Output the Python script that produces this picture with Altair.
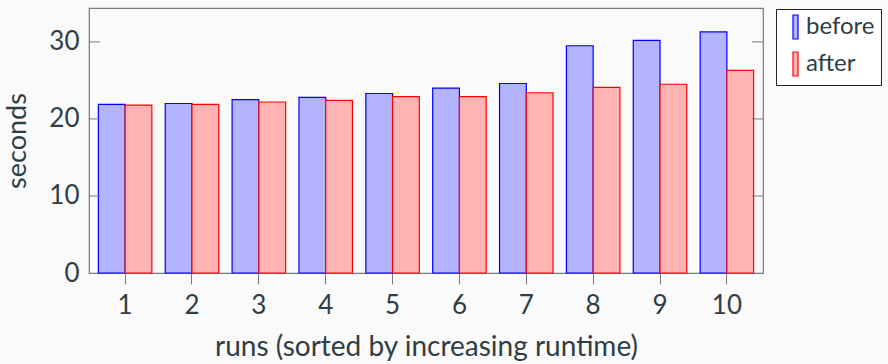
import altair as alt
import pandas as pd

runs = [1, 2, 3, 4, 5, 6, 7, 8, 9, 10]
before = [21.9, 22.0, 22.5, 22.8, 23.3, 24.0, 24.6, 29.5, 30.2, 31.3]
after = [21.8, 21.9, 22.2, 22.4, 22.9, 22.9, 23.4, 24.1, 24.5, 26.3]
series = ["before", "after"]
fills = ["#b3b3ff", "#ffb3b3"]
strokes = ["#0000ff", "#ff0000"]
y_ticks = [0, 10, 20, 30]

FONT = "Lato"
TEXT = "#2f3e46"
FRAME = "#737b7e"

df = pd.DataFrame({
    "run": runs * 2,
    "series": ["before"] * len(runs) + ["after"] * len(runs),
    "seconds": before + after,
})
ticks_df = pd.DataFrame({"seconds": y_ticks[1:]})

yscale = alt.Scale(domain=[0, 34.4], nice=False, zero=True)
yaxis = alt.Axis(values=y_ticks, title="seconds", grid=False, ticks=False,
                 tickSize=0, domain=False,
                 labelFont=FONT, labelFontSize=26, labelColor=TEXT, labelPadding=10,
                 titleFont=FONT, titleFontSize=27, titleColor=TEXT,
                 titleFontWeight="normal", titlePadding=17)

legend_kw = dict(
    title=None, orient="none", legendX=687, legendY=1,
    fillColor="white", strokeColor="#222222", padding=6,
    labelFont=FONT, labelFontSize=24, labelColor=TEXT,
    symbolType="M-0.5,-6 L2,-6 L2,6 L-0.5,6 Z", symbolSize=16,
    symbolStrokeWidth=1.2, symbolOpacity=1, labelOffset=0, rowPadding=7,
)

bars = alt.Chart(df).mark_bar(strokeWidth=1.2).encode(
    x=alt.X("run:O", sort=runs,
            scale=alt.Scale(paddingInner=0.2, paddingOuter=0.14),
            axis=alt.Axis(title="runs (sorted by increasing runtime)", labelAngle=0,
                          tickSize=11, tickColor=FRAME, domain=False,
                          labelFont=FONT, labelFontSize=26, labelColor=TEXT, labelPadding=8,
                          titleFont=FONT, titleFontSize=28, titleColor=TEXT,
                          titleFontWeight="normal", titlePadding=15)),
    xOffset=alt.XOffset("series:N", sort=series,
                        scale=alt.Scale(domain=series, paddingInner=0, paddingOuter=0)),
    y=alt.Y("seconds:Q", scale=yscale, axis=yaxis),
    fill=alt.Fill("series:N", sort=series,
                  scale=alt.Scale(domain=series, range=fills),
                  legend=alt.Legend(**legend_kw)),
    stroke=alt.Stroke("series:N", sort=series,
                      scale=alt.Scale(domain=series, range=strokes),
                      legend=alt.Legend(**legend_kw)),
)

left_ticks = alt.Chart(ticks_df).mark_rule(color=FRAME, strokeWidth=1).encode(
    y=alt.Y("seconds:Q", scale=yscale, axis=yaxis),
    x=alt.value(0), x2=alt.value(11),
)
right_ticks = alt.Chart(ticks_df).mark_rule(color=FRAME, strokeWidth=1).encode(
    y=alt.Y("seconds:Q", scale=yscale, axis=yaxis),
    x=alt.value(663), x2=alt.value(674),
)

chart = alt.layer(bars, left_ticks, right_ticks).properties(
    width=674, height=265,
    autosize=alt.AutoSizeParams(type="none"),
    padding={"left": 89, "top": 8, "right": 125, "bottom": 91},
    background="#fafafa",
).configure_view(stroke=FRAME, strokeWidth=1.2, fill="#fafafa")

chart.save("out.html", embed_options={"renderer": "svg", "actions": False})
